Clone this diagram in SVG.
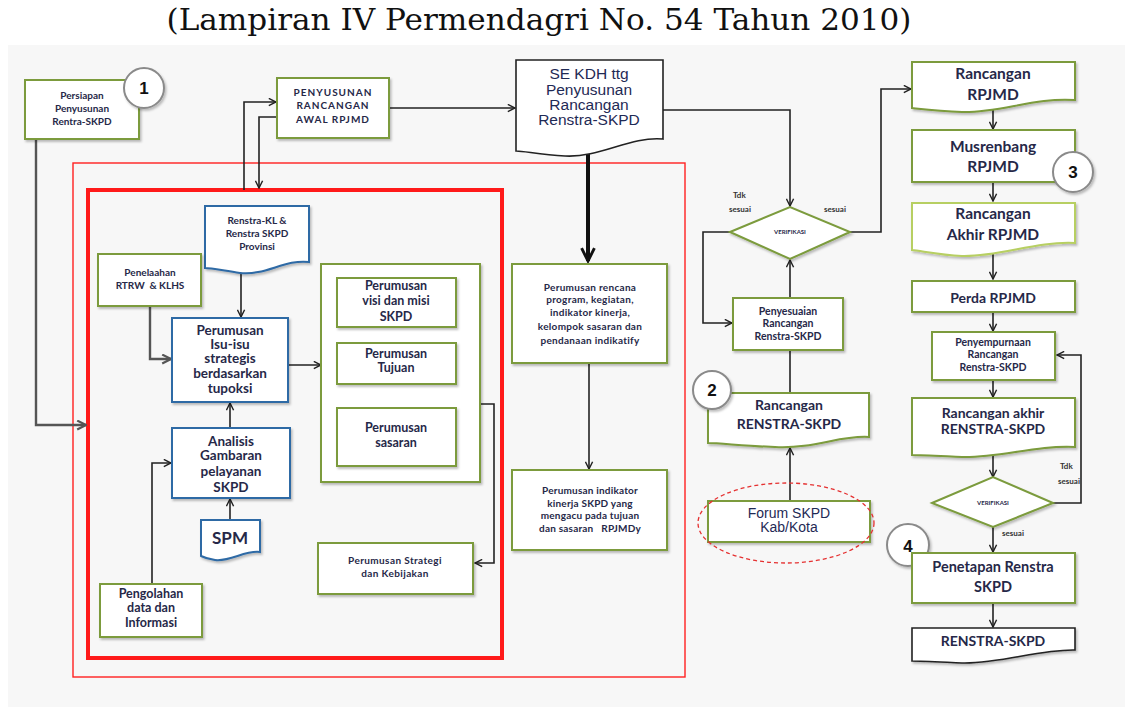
<svg xmlns="http://www.w3.org/2000/svg" width="1132" height="718" viewBox="0 0 1132 718">
<defs>
<style>
.g{fill:#fff;stroke:#7b9b3c;stroke-width:2}
.lg{fill:#fff;stroke:#b7cf62;stroke-width:2}
.b{fill:#fff;stroke:#2f6aa5;stroke-width:2}
.k{fill:#fff;stroke:#222;stroke-width:1.6}
.t{font-family:Lato,"Liberation Sans",sans-serif;font-weight:bold;fill:#262848;text-anchor:middle}
.a{font-family:"Liberation Sans",Arial,sans-serif;fill:#1f2a55;text-anchor:middle}
.c{fill:none;stroke:#222;stroke-width:1.6}
.cg{fill:none;stroke:#555;stroke-width:2.4}
.num{font-family:"Liberation Sans",Arial,sans-serif;font-weight:bold;font-size:17px;fill:#111;text-anchor:middle}
.circ{fill:#fff;stroke:#8a8a8a;stroke-width:2}
.lab{font-family:Lato,"Liberation Sans",sans-serif;font-weight:bold;font-size:8px;fill:#333}
</style>
<filter id="sh" x="-10%" y="-10%" width="125%" height="130%">
<feDropShadow dx="1.5" dy="2" stdDeviation="1" flood-color="#000" flood-opacity="0.25"/>
</filter>
<marker id="ar" viewBox="0 0 10 10" refX="9" refY="5" markerWidth="9" markerHeight="9" markerUnits="userSpaceOnUse" orient="auto">
<path d="M1,1 L9,5 L1,9" fill="none" stroke="#222" stroke-width="1.6"/>
</marker>
<marker id="arb" viewBox="0 0 10 10" refX="9" refY="5" markerWidth="16" markerHeight="16" markerUnits="userSpaceOnUse" orient="auto">
<path d="M1,1 L9,5 L1,9" fill="none" stroke="#111" stroke-width="1.8"/>
</marker>
<marker id="arg" viewBox="0 0 10 10" refX="9" refY="5" markerWidth="11" markerHeight="11" markerUnits="userSpaceOnUse" orient="auto">
<path d="M1,1 L9,5 L1,9" fill="none" stroke="#555" stroke-width="2"/>
</marker>
</defs>

<rect x="0" y="0" width="1132" height="718" fill="#fff"/>
<rect x="8" y="45" width="1117" height="662" fill="#f7f7f7"/>

<text x="539" y="30" font-family="'DejaVu Serif','Liberation Serif',serif" font-size="29" fill="#111" text-anchor="middle" textLength="745" lengthAdjust="spacingAndGlyphs">(Lampiran IV Permendagri No. 54 Tahun 2010)</text>

<!-- frames -->
<g id="frames">
<rect x="73" y="163" width="612" height="514" fill="none" stroke="#ff2020" stroke-width="1.4"/>
<rect x="88" y="190" width="414" height="468" fill="none" stroke="#ff1a1a" stroke-width="4"/>
</g>

<!-- connectors -->
<g id="connectors">
<path class="cg" d="M36,139 V425 H86" marker-end="url(#arg)"/>
<path class="c" d="M244,190 V102 H276" marker-end="url(#ar)"/>
<path class="c" d="M277,117 H259 V188" stroke="#555" marker-end="url(#ar)"/>
<path class="c" d="M389,108 H515" marker-end="url(#ar)"/>
<path class="c" d="M663,110 H790 V206" marker-end="url(#ar)"/>
<path fill="none" stroke="#111" stroke-width="4" d="M588,153 V261" marker-end="url(#arb)"/>
<path class="c" d="M241,272 V317" marker-end="url(#ar)"/>
<path class="cg" d="M150,306 V359 H171" marker-end="url(#arg)"/>
<path class="c" d="M230,428 V403" marker-end="url(#ar)"/>
<path class="c" d="M230,520 V499" marker-end="url(#ar)"/>
<path class="c" d="M152,584 V463 H171" marker-end="url(#ar)"/>
<path class="c" d="M288,365 H321" marker-end="url(#ar)"/>
<path class="c" d="M323,302 V438"/>
<path class="c" d="M323,302 H336" marker-end="url(#ar)"/>
<path class="c" d="M323,438 H336" marker-end="url(#ar)"/>
<path class="c" d="M393,327 V342" marker-end="url(#ar)"/>
<path class="c" d="M393,384 V407" marker-end="url(#ar)"/>
<path class="c" d="M480,365 H458" marker-end="url(#ar)"/>
<path class="c" d="M480,365 V438 H458" marker-end="url(#ar)"/>
<path class="c" d="M480,404 H494 V563 H475" marker-end="url(#ar)"/>
<path class="c" d="M589,363 V469" marker-end="url(#ar)"/>
<path class="c" d="M730,232 H703 V323 H732" marker-end="url(#ar)"/>
<path class="c" d="M790,298 V260" marker-end="url(#ar)"/>
<path class="c" d="M790,393 V350"/>
<path class="c" d="M790,500 V448" marker-end="url(#ar)"/>
<path class="c" d="M850,232 H881 V89 H911" marker-end="url(#ar)"/>
<path class="c" d="M993,109 V129" marker-end="url(#ar)"/>
<path class="c" d="M993,182 V201" marker-end="url(#ar)"/>
<path class="c" d="M993,254 V279" marker-end="url(#ar)"/>
<path class="c" d="M993,312 V331" marker-end="url(#ar)"/>
<path class="c" d="M993,380 V397" marker-end="url(#ar)"/>
<path class="c" d="M993,456 V477" marker-end="url(#ar)"/>
<path class="c" d="M993,527 V552" marker-end="url(#ar)"/>
<path class="c" d="M993,603 V627" marker-end="url(#ar)"/>
<path class="c" d="M1053,503 H1081 V355 H1057" marker-end="url(#ar)"/>
<text class="lab" x="733" y="198">Tdk</text>
<text class="lab" x="729" y="212">sesuai</text>
<text class="lab" x="824" y="212">sesuai</text>
<text class="lab" x="1060" y="469">Tdk</text>
<text class="lab" x="1058" y="484">sesuai</text>
<text class="lab" x="1002" y="536">sesuai</text>
</g>

<!-- left nodes -->
<g id="persiapan">
<rect class="g" x="25" y="80" width="114" height="59" filter="url(#sh)"/>
<text class="t" font-size="10" x="82" y="99">Persiapan</text>
<text class="t" font-size="10" x="82" y="112">Penyusunan</text>
<text class="t" font-size="10" x="82" y="125">Rentra-SKPD</text>
</g>
<g id="c1">
<circle class="circ" cx="144" cy="88" r="20" filter="url(#sh)"/>
<text class="num" x="144" y="94">1</text>
</g>

<g id="penyusunan">
<rect class="g" x="277" y="78" width="112" height="60" filter="url(#sh)"/>
<text class="t" font-size="10" x="333" y="96" letter-spacing="1">PENYUSUNAN</text>
<text class="t" font-size="10" x="333" y="109" letter-spacing="1">RANCANGAN</text>
<text class="t" font-size="10" x="333" y="123" letter-spacing="1">AWAL  RPJMD</text>
</g>

<g id="sekdh">
<path class="k" d="M516,60 H663 V139 C630,136 600,158 565,156 C540,155 525,151 516,151 Z"/>
<text class="a" font-size="15.5" x="589" y="79">SE KDH  ttg</text>
<text class="a" font-size="15.5" x="589" y="95">Penyusunan</text>
<text class="a" font-size="15.5" x="589" y="110">Rancangan</text>
<text class="a" font-size="15.5" x="589" y="125">Renstra-SKPD</text>
</g>

<g id="renstrakl">
<path class="b" d="M205,206 H309 V262 C285,259 265,276 240,273 C225,271 212,268 205,268 Z" filter="url(#sh)"/>
<text class="t" font-size="10" x="257" y="224">Renstra-KL &amp;</text>
<text class="t" font-size="10" x="257" y="237">Renstra SKPD</text>
<text class="t" font-size="10" x="257" y="250">Provinsi</text>
</g>

<g id="penelaahan">
<rect class="g" x="98" y="254" width="103" height="52" filter="url(#sh)"/>
<text class="t" font-size="10" x="150" y="276">Penelaahan</text>
<text class="t" font-size="10" x="150" y="289" xml:space="preserve">RTRW  &amp; KLHS</text>
</g>

<g id="isu">
<rect class="b" x="172" y="318" width="116" height="84" filter="url(#sh)"/>
<text class="t" font-size="13.5" x="230" y="335">Perumusan</text>
<text class="t" font-size="13.5" x="230" y="349">Isu-isu</text>
<text class="t" font-size="13.5" x="230" y="363">strategis</text>
<text class="t" font-size="13.5" x="230" y="378">berdasarkan</text>
<text class="t" font-size="13.5" x="230" y="393">tupoksi</text>
</g>

<g id="analisis">
<rect class="b" x="172" y="428" width="118" height="70" filter="url(#sh)"/>
<text class="t" font-size="13.5" x="231" y="446">Analisis</text>
<text class="t" font-size="13.5" x="231" y="460">Gambaran</text>
<text class="t" font-size="13.5" x="231" y="476">pelayanan</text>
<text class="t" font-size="13.5" x="231" y="492">SKPD</text>
</g>

<g id="spm">
<path class="b" d="M201,520 H260 V552 C245,550 230,562 215,560 C208,559 203,557 201,556 Z" filter="url(#sh)"/>
<text class="t" font-size="17" x="230" y="544">SPM</text>
</g>

<g id="pengolahan">
<rect class="g" x="100" y="584" width="102" height="53" filter="url(#sh)"/>
<text class="t" font-size="12.5" x="151" y="598">Pengolahan</text>
<text class="t" font-size="12.5" x="151" y="612">data dan</text>
<text class="t" font-size="12.5" x="151" y="627">Informasi</text>
</g>

<g id="tujuangroup">
<rect class="g" x="321" y="264" width="159" height="218" filter="url(#sh)"/>
</g>
<g id="visi">
<rect class="g" x="337" y="278" width="119" height="49" filter="url(#sh)"/>
<text class="t" font-size="12.5" x="396" y="290">Perumusan</text>
<text class="t" font-size="12.5" x="396" y="305">visi dan misi</text>
<text class="t" font-size="12.5" x="396" y="321">SKPD</text>
</g>
<g id="tujuan">
<rect class="g" x="337" y="343" width="119" height="41" filter="url(#sh)"/>
<text class="t" font-size="12.5" x="396" y="358">Perumusan</text>
<text class="t" font-size="12.5" x="396" y="372">Tujuan</text>
</g>
<g id="sasaran">
<rect class="g" x="337" y="408" width="119" height="58" filter="url(#sh)"/>
<text class="t" font-size="12.5" x="396" y="432">Perumusan</text>
<text class="t" font-size="12.5" x="396" y="447">sasaran</text>
</g>

<g id="strategi">
<rect class="g" x="318" y="543" width="155" height="51" filter="url(#sh)"/>
<text class="t" font-size="10" x="395" y="564" letter-spacing="0.4">Perumusan Strategi</text>
<text class="t" font-size="10" x="395" y="577" letter-spacing="0.4">dan Kebijakan</text>
</g>

<!-- middle column -->
<g id="rencana">
<rect class="g" x="512" y="264" width="155" height="99" filter="url(#sh)"/>
<text class="t" font-size="10" x="590" y="291" letter-spacing="0.3">Perumusan rencana</text>
<text class="t" font-size="10" x="590" y="303" letter-spacing="0.3">program, kegiatan,</text>
<text class="t" font-size="10" x="590" y="316" letter-spacing="0.3">indikator kinerja,</text>
<text class="t" font-size="10" x="590" y="330" letter-spacing="0.3">kelompok sasaran dan</text>
<text class="t" font-size="10" x="590" y="344" letter-spacing="0.3">pendanaan indikatify</text>
</g>
<g id="indikator">
<rect class="g" x="512" y="470" width="155" height="80" filter="url(#sh)"/>
<text class="t" font-size="10" x="590" y="494" letter-spacing="0.2">Perumusan indikator</text>
<text class="t" font-size="10" x="590" y="507" letter-spacing="0.2">kinerja SKPD yang</text>
<text class="t" font-size="10" x="590" y="519" letter-spacing="0.2">mengacu pada tujuan</text>
<text class="t" font-size="10" x="590" y="532" letter-spacing="0.2" xml:space="preserve">dan sasaran   RPJMDy</text>
</g>

<!-- right-middle column -->
<g id="verif1">
<polygon class="g" points="730,232 790,207 850,232 790,259" filter="url(#sh)"/>
<text class="t" font-size="6" x="790" y="234">VERIFIKASI</text>
</g>
<g id="penyesuaian">
<rect class="g" x="733" y="298" width="110" height="52" filter="url(#sh)"/>
<text class="t" font-size="10.5" x="788" y="315">Penyesuaian</text>
<text class="t" font-size="10.5" x="788" y="327">Rancangan</text>
<text class="t" font-size="10.5" x="788" y="340">Renstra-SKPD</text>
</g>
<g id="ranrenstra">
<path class="g" d="M708,393 H869 V437 C840,435 815,449 775,447 C745,446 720,443 708,443 Z" filter="url(#sh)"/>
<text class="t" font-size="14" x="789" y="410" font-weight="normal">Rancangan</text>
<text class="t" font-size="14" x="789" y="429">RENSTRA-SKPD</text>
</g>
<g id="c2">
<circle class="circ" cx="712" cy="390" r="19" filter="url(#sh)"/>
<text class="num" x="712" y="396">2</text>
</g>
<g id="forum">
<rect class="g" x="708" y="501" width="162" height="41" filter="url(#sh)"/>
<text class="a" font-size="14" x="789" y="518">Forum SKPD</text>
<text class="a" font-size="14" x="789" y="532">Kab/Kota</text>
<ellipse cx="786" cy="523" rx="88" ry="40" fill="none" stroke="#e53030" stroke-width="1.3" stroke-dasharray="4,3"/>
</g>

<!-- right column -->
<g id="ranrpjmd">
<path class="g" d="M912,62 H1075 V100 C1035,97 1000,113 962,112 C940,111 922,109 912,108 Z" filter="url(#sh)"/>
<text class="t" font-size="15.5" x="993" y="79">Rancangan</text>
<text class="t" font-size="15.5" x="993" y="100">RPJMD</text>
</g>
<g id="musrenbang">
<rect class="g" x="912" y="130" width="163" height="52" filter="url(#sh)"/>
<text class="t" font-size="15.5" x="993" y="152">Musrenbang</text>
<text class="t" font-size="15.5" x="993" y="172">RPJMD</text>
</g>
<g id="c3">
<circle class="circ" cx="1073" cy="172" r="20" filter="url(#sh)"/>
<text class="num" x="1073" y="178">3</text>
</g>
<g id="akhirrpjmd">
<path class="lg" d="M912,203 H1075 V243 C1035,241 1000,257 962,256 C940,255 922,251 912,250 Z" filter="url(#sh)"/>
<text class="t" font-size="15.5" x="993" y="219">Rancangan</text>
<text class="t" font-size="15.5" x="993" y="240">Akhir RPJMD</text>
</g>
<g id="perda">
<rect class="g" x="912" y="281" width="163" height="31" filter="url(#sh)"/>
<text class="t" font-size="14" x="993" y="303">Perda RPJMD</text>
</g>
<g id="penyempurnaan">
<rect class="g" x="932" y="332" width="123" height="48" filter="url(#sh)"/>
<text class="t" font-size="10.5" x="993" y="346">Penyempurnaan</text>
<text class="t" font-size="10.5" x="993" y="358">Rancangan</text>
<text class="t" font-size="10.5" x="993" y="371">Renstra-SKPD</text>
</g>
<g id="akhirrenstra">
<path class="g" d="M912,398 H1075 V447 C1035,445 1000,458 962,457 C940,456 922,455 912,455 Z" filter="url(#sh)"/>
<text class="t" font-size="14" x="993" y="418">Rancangan akhir</text>
<text class="t" font-size="14" x="993" y="434">RENSTRA-SKPD</text>
</g>
<g id="verif2">
<polygon class="g" points="932,503 993,477 1053,503 993,527" filter="url(#sh)"/>
<text class="t" font-size="6" x="993" y="505">VERIFIKASI</text>
</g>
<g id="c4">
<circle class="circ" cx="908" cy="545" r="21" filter="url(#sh)"/>
<text class="num" x="908" y="552">4</text>
</g>
<g id="penetapan">
<rect class="g" x="912" y="553" width="163" height="50" filter="url(#sh)"/>
<text class="t" font-size="14.5" x="993" y="572">Penetapan Renstra</text>
<text class="t" font-size="14.5" x="993" y="592">SKPD</text>
</g>
<g id="renstra">
<path class="k" d="M912,628 H1075 V650 C1040,649 1000,664 962,663 C940,662 922,661 912,661 Z" filter="url(#sh)"/>
<text class="t" font-size="14" x="993" y="646">RENSTRA-SKPD</text>
</g>
</svg>
